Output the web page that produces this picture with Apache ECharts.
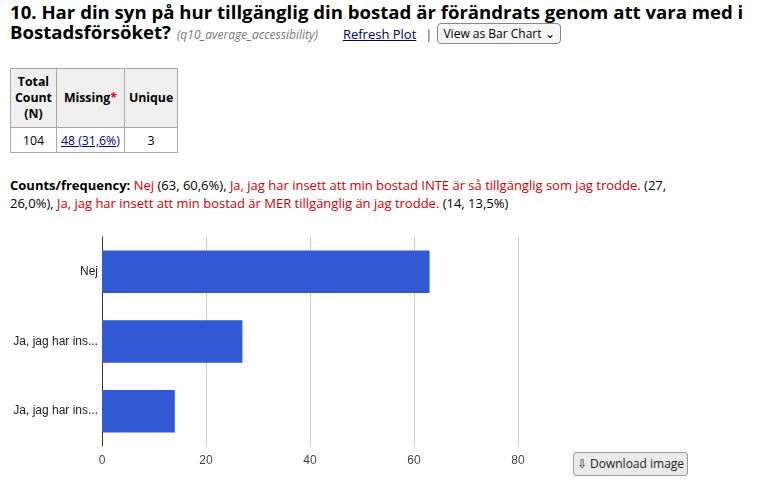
<!DOCTYPE html>
<html>
<head>
<meta charset="utf-8">
<script src="https://cdn.jsdelivr.net/npm/echarts@6/dist/echarts.min.js"></script>
<style>
  body { margin: 0; font-family: "Open Sans", sans-serif; color: #000; background: #fff; }
  .title { position: absolute; left: 10px; top: 2px; width: 747px; font-size: 18.6px; font-weight: bold; line-height: 20px; }
  .title .var { font-size: 12px; font-weight: normal; font-style: italic; color: #777; margin-left: 6px; }
  .title a { font-size: 13px; font-weight: normal; color: #000066; margin-left: 25px; }
  .title .sep { font-size: 13px; font-weight: normal; color: #444; margin: 0 5px 0 9px; }
  .title .sel { display: inline-block; font-size: 12px; font-weight: normal; border: 1px solid #888; border-radius: 4px;
    padding: 1px 5px; background: #f5f5f5; vertical-align: 1px; line-height: 17px; }
  table.stats { position: absolute; left: 10px; top: 68px; border-collapse: collapse; font-size: 12.3px; }
  table.stats th, table.stats td { border: 1px solid #a9a9a9; text-align: center; padding: 2px 4px; }
  table.stats th { background: #efefef; line-height: 16px; height: 54px; }
  table.stats td { height: 20px; }
  table.stats a { color: #000080; }
  .req { color: #e00; }
  .freq { position: absolute; left: 10px; top: 176px; width: 690px; font-size: 13px; line-height: 18px; }
  .freq .r { color: #cc0000; }
  #chart { position: absolute; left: 0; top: 225px; width: 757px; height: 259px; }
  .dl { position: absolute; left: 573px; top: 452px; width: 115px; height: 24px; box-sizing: border-box;
    border: 1px solid #999; border-radius: 3px; background: #e9e9e9; font-size: 12px; text-align: center; line-height: 22px; color: #222; }
</style>
</head>
<body>
<div class="title">10. Har din syn på hur tillgänglig din bostad är förändrats genom att vara med i Bostadsförsöket?<span class="var">(q10_average_accessibility)</span><a href="#">Refresh Plot</a><span class="sep">|</span><span class="sel">View as Bar Chart ⌄</span></div>

<table class="stats">
  <tr><th>Total<br>Count<br>(N)</th><th>Missing<span class="req">*</span></th><th>Unique</th></tr>
  <tr><td>104</td><td><a href="#">48 (31,6%)</a></td><td>3</td></tr>
</table>

<div class="freq"><b>Counts/frequency:</b> <span class="r">Nej</span> (63, 60,6%), <span class="r">Ja, jag har insett att min bostad INTE är så tillgänglig som jag trodde.</span> (27, 26,0%), <span class="r">Ja, jag har insett att min bostad är MER tillgänglig än jag trodde.</span> (14, 13,5%)</div>

<div id="chart"></div>
<div class="dl">⇩ Download image</div>

<script>
const categories = ["Nej", "Ja, jag har ins...", "Ja, jag har ins..."];
const counts = [63, 27, 14];
const xTicks = [0, 20, 40, 60, 80];

const chart = echarts.init(document.getElementById("chart"));
chart.setOption({
  animation: false,
  grid: { left: 102, top: 12, width: 416, height: 209, containLabel: false },
  xAxis: {
    type: "value",
    min: xTicks[0],
    max: xTicks[xTicks.length - 1],
    interval: 20,
    axisLine: { show: false },
    axisTick: { show: false },
    axisLabel: { color: "#444", fontFamily: "Arial", fontSize: 12, margin: 9 },
    splitLine: { lineStyle: { color: "#cccccc", width: 1 } }
  },
  yAxis: {
    type: "category",
    data: categories,
    inverse: true,
    axisLine: { show: true, lineStyle: { color: "#333", width: 1 } },
    axisTick: { show: false },
    axisLabel: { color: "#222", fontFamily: "Arial", fontSize: 12, margin: 4 }
  },
  series: [{
    type: "bar",
    data: counts,
    barWidth: "61%",
    itemStyle: { color: "#3159d3" }
  }]
});
</script>
</body>
</html>
